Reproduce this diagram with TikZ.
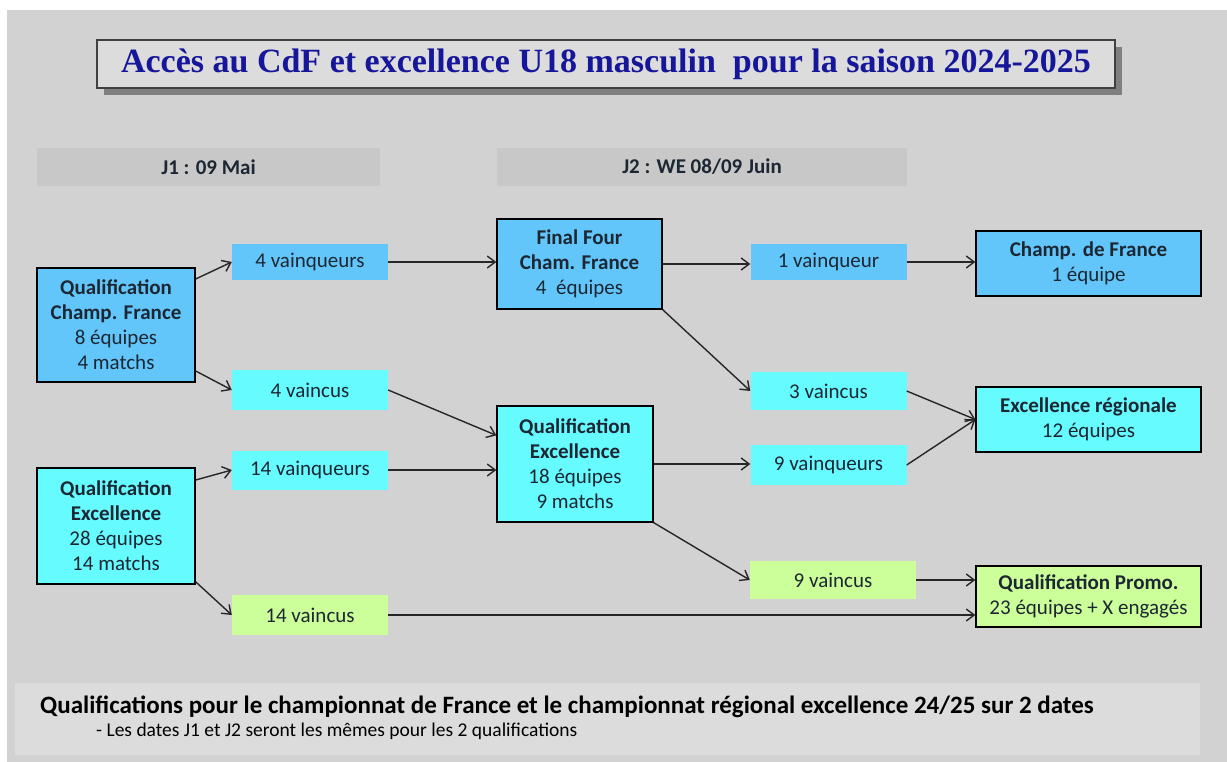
\documentclass[tikz,border=0pt]{standalone}
\usepackage{fontspec}
\setmainfont{Carlito}
\newfontfamily\titlefont{Liberation Serif}
\usetikzlibrary{arrows.meta,shadows}
\definecolor{page}{HTML}{D2D2D2}
\definecolor{band}{HTML}{C8C8C8}
\definecolor{note}{HTML}{DCDCDC}
\definecolor{cfblue}{HTML}{62C6FA}
\definecolor{excyan}{HTML}{66FBFF}
\definecolor{prgreen}{HTML}{CCFF99}
\definecolor{ink}{HTML}{1C2733}
\definecolor{navy}{HTML}{16169A}

\begin{document}
\begin{tikzpicture}[
  x=1pt, y=-1pt,
  every node/.style = {font=\fontsize{21}{25}\selectfont, text=ink, align=center, inner sep=0pt},
  stage/.style = {draw=black, line width=1.2pt},
  tag/.style = {minimum width=156pt},
  head/.style = {fill=band, minimum height=38pt, font=\fontsize{21}{25}\selectfont\bfseries},
  link/.style = {draw=black!85, line width=1.4pt, -{Straight Barb[length=8pt,width=12pt]}}
]
  \useasboundingbox (0,0) rectangle (1227,762);
  \fill[page] (7,10) rectangle (1227,762);

  \node (title) at (606,64) [draw=black!75, line width=2.5pt, fill=note,
    minimum width=1018pt, minimum height=48pt,
    drop shadow={shadow xshift=7pt, shadow yshift=-7pt, fill=black!50, opacity=1},
    font=\titlefont\fontsize{34}{36}\selectfont\bfseries, text=navy]
    {Accès au CdF et excellence U18 masculin\ \ pour la saison 2024-2025};

  \node[head, minimum width=343pt] (j1) at (208.5,167) {J1 : 09 Mai};
  \node[head, minimum width=410pt] (j2) at (702,167) {J2 : WE 08/09 Juin};

  \node[stage, fill=cfblue, minimum width=158pt, minimum height=114pt] (qcf) at (116,325)
    {\textbf{Qualification}\\\textbf{Champ. France}\\8 équipes\\4 matchs};
  \node[stage, fill=excyan, minimum width=158pt, minimum height=116pt] (qel) at (116,526)
    {\textbf{Qualification}\\\textbf{Excellence}\\28 équipes\\14 matchs};

  \node[tag, fill=cfblue, minimum height=36pt] (v4) at (310,262) {4 vainqueurs};
  \node[tag, fill=excyan, minimum height=40pt] (l4) at (310,390) {4 vaincus};
  \node[tag, fill=excyan, minimum height=39pt] (v14) at (310,470) {14 vainqueurs};
  \node[tag, fill=prgreen, minimum height=40pt] (l14) at (310,615) {14 vaincus};

  \node[stage, fill=cfblue, minimum width=165pt, minimum height=90pt] (ff) at (579.5,264)
    {\textbf{Final Four}\\\textbf{Cham. France}\\4\ \ équipes};
  \node[stage, fill=excyan, minimum width=156pt, minimum height=116pt] (qem) at (575,464)
    {\textbf{Qualification}\\\textbf{Excellence}\\18 équipes\\9 matchs};

  \node[tag, fill=cfblue, minimum height=36pt] (v1) at (828.5,262) {1 vainqueur};
  \node[tag, fill=excyan, minimum height=38pt] (l3) at (828.5,391) {3 vaincus};
  \node[tag, fill=excyan, minimum height=40pt] (v9) at (828.5,465) {9 vainqueurs};
  \node[tag, fill=prgreen, minimum width=166pt, minimum height=38pt] (l9) at (833,580) {9 vaincus};

  \node[stage, fill=cfblue, minimum width=225pt, minimum height=65pt] (cdf) at (1088.5,263.5)
    {\textbf{Champ. de France}\\1 équipe};
  \node[stage, fill=excyan, minimum width=225pt, minimum height=65pt] (exr) at (1088.5,419.5)
    {\textbf{Excellence régionale}\\12 équipes};
  \node[stage, fill=prgreen, minimum width=225pt, minimum height=61pt] (promo) at (1088.5,596.5)
    {\textbf{Qualification Promo.}\\23 équipes + X engagés};

  \draw[link] (qcf.30) -- (v4.west);
  \draw[link] (qcf.-30) -- (l4.west);
  \draw[link] (qel.30) -- (v14.west);
  \draw[link] (qel.-35) -- (l14.west);
  \draw[link] (v4.east) -- (v4.east -| ff.west);
  \draw[link] (l4.east) -- (qem.160);
  \draw[link] (v14.east) -- (v14.east -| qem.west);
  \draw[link] (l14.east) -- (l14.east -| promo.west);
  \draw[link] (ff.east) -- (ff.east -| v1.west);
  \draw[link] (ff.south east) -- (l3.west);
  \draw[link] (qem.east) -- (qem.east -| v9.west);
  \draw[link] (qem.south east) -- (l9.west);
  \draw[link] (v1.east) -- (v1.east -| cdf.west);
  \draw[link] (l3.east) -- (exr.west);
  \draw[link] (v9.east) -- (exr.west);
  \draw[link] (l9.east) -- (l9.east -| promo.west);

  \node[fill=note, minimum width=1185pt, minimum height=72pt] (foot) at (607.5,719) {};
  \node[anchor=west, font=\fontsize{25}{28}\selectfont\bfseries, text=black] (fline) at (40,707)
    {Qualifications pour le championnat de France et le championnat régional excellence 24/25 sur 2 dates};
  \node[anchor=west, font=\fontsize{19.5}{24}\selectfont, text=black] (sline) at (96,731)
    {- Les dates J1 et J2 seront les mêmes pour les 2 qualifications};
\end{tikzpicture}
\end{document}
